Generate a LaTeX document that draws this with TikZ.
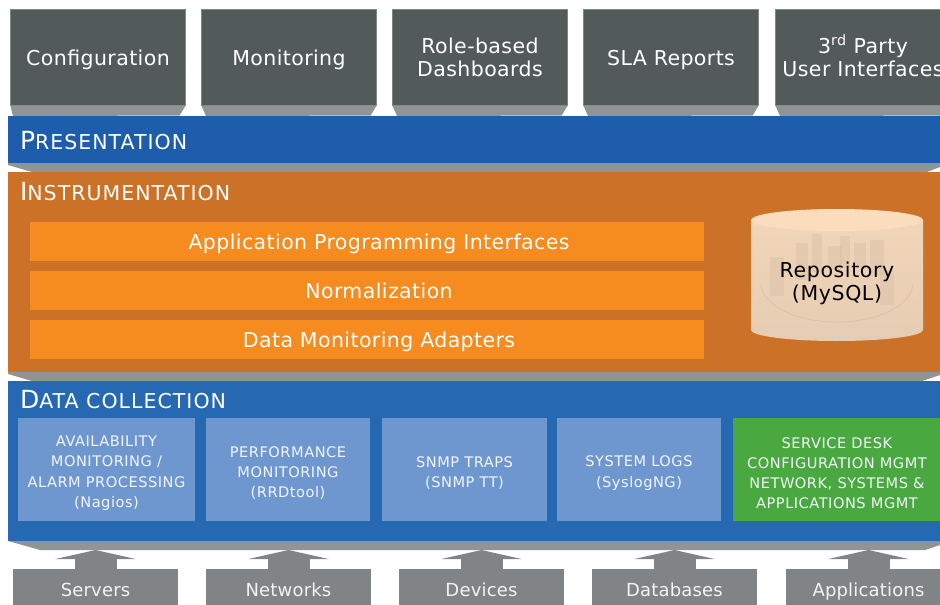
\documentclass[tikz,border=0pt]{standalone}
\usepackage{fontspec}
\setmainfont{DejaVu Sans}
\usetikzlibrary{positioning,arrows.meta}
\definecolor{slategrey}{HTML}{535A5A}
\definecolor{edgegrey}{HTML}{7F8786}
\definecolor{shadowgrey}{HTML}{909494}
\definecolor{sourcegrey}{HTML}{808486}
\definecolor{presentblue}{HTML}{1D5DAB}
\definecolor{collectblue}{HTML}{2768B3}
\definecolor{cellblue}{HTML}{6F97CF}
\definecolor{bandorange}{HTML}{CC7228}
\definecolor{barorange}{HTML}{F68B1F}
\definecolor{deskgreen}{HTML}{49A83F}
\definecolor{repohigh}{HTML}{F1D6B8}
\definecolor{repolow}{HTML}{E6CCB2}
\definecolor{repotop}{HTML}{FBDCBD}
\definecolor{repoghost}{HTML}{CDB8A2}
\newcommand{\headfont}[2]{{\fontsize{25}{25}\selectfont #1}{\fontsize{20.5}{25}\selectfont\addfontfeature{LetterSpace=5}#2}}
\newcommand{\barshift}[1]{\hspace*{24pt}#1}
\newcommand{\celltop}{\rule{0pt}{18pt}}

\begin{document}
\begin{tikzpicture}
  [
    x                  = 1pt,
    y                  = -1pt,
    every node/.style  = {inner sep=0pt, outer sep=0pt, align=center},
    topbox/.style      = {fill=slategrey, draw=edgegrey, line width=0.8pt, text=white,
                          minimum width=175.2pt, minimum height=96.2pt,
                          font=\fontsize{20.5}{23}\selectfont\addfontfeature{LetterSpace=2}},
    oneline/.style     = {text height=20pt, text depth=5pt},
    layerband/.style   = {minimum width=950pt, anchor=north west},
    headtext/.style    = {anchor=west, text=white},
    barbox/.style      = {fill=barorange, text=white, minimum width=674pt, minimum height=39pt,
                          text height=19pt, text depth=4pt,
                          font=\fontsize{20.5}{23}\selectfont\addfontfeature{LetterSpace=2}},
    cellbox/.style     = {fill=cellblue, text=white!90!cellblue, minimum height=103pt,
                          font=\fontsize{14.6}{20.2}\selectfont\addfontfeature{LetterSpace=3.5}},
    sourcebox/.style   = {fill=sourcegrey, text=white!90!sourcegrey, minimum width=165pt,
                          minimum height=42pt, text height=17pt, text depth=4pt,
                          font=\fontsize{18}{22}\selectfont\addfontfeature{LetterSpace=1}},
    shadowfill/.style  = {fill=shadowgrey},
    ghostfill/.style   = {fill=repoghost, opacity=0.3},
    feedarrow/.style   = {draw=sourcegrey, line width=42pt,
                          -{Triangle[width=80pt, length=9pt]}}
  ]
  \clip (0,0) rectangle (940,605);

  \node[topbox, oneline] (config) at (98,57.5) {Configuration};
  \node[topbox, oneline, right=15.8pt of config] (monitoring) {Monitoring};
  \node[topbox, right=15.8pt of monitoring] (dashboards) {Role-based\\Dashboards};
  \node[topbox, oneline, right=15.8pt of dashboards] (sla) {SLA Reports};
  \node[topbox, right=16.8pt of sla] (thirdparty) {3\smash{\textsuperscript{rd}} Party\\User Interfaces};

  \fill[shadowfill] (config.south west) -- (config.south east) -- ++(-6,10) -- (13,116) -- cycle;
  \fill[shadowfill] (monitoring.south west) -- (monitoring.south east) -- ++(-6,10) -- (206,116) -- cycle;
  \fill[shadowfill] (dashboards.south west) -- (dashboards.south east) -- ++(-6,10) -- (397,116) -- cycle;
  \fill[shadowfill] (sla.south west) -- (sla.south east) -- ++(-6,10) -- (588,116) -- cycle;
  \fill[shadowfill] (thirdparty.south west) -- (thirdparty.south east) -- ++(-6,10) -- (780,116) -- cycle;

  \node[layerband, fill=presentblue, minimum height=47pt] (presentation) at (8,116) {};
  \node[layerband, fill=bandorange, minimum height=200pt] (instrumentation) at (8,172) {};
  \node[layerband, fill=collectblue, minimum height=160pt] (collection) at (8,381) {};

  \fill[shadowfill] (8,163) -- (940,163) -- (940,167) -- (927,172) -- (32,172) -- (8,165) -- cycle;
  \fill[shadowfill] (8,372) -- (940,372) -- (940,375) -- (922,381) -- (32,381) -- (8,374) -- cycle;
  \fill[shadowfill] (8,541) -- (940,541) -- (940,545) -- (925,550) -- (40,550) -- (8,541) -- cycle;

  \node[headtext] (presenthead) at (20,141) {\headfont{P}{RESENTATION}};
  \node[headtext] (instrumenthead) at (20,192) {\headfont{I}{NSTRUMENTATION}};
  \node[headtext] (collecthead) at (20,400) {\headfont{D}{ATA COLLECTION}};

  \node[barbox] (api) at (367,241.5) {\barshift{Application Programming Interfaces}};
  \node[barbox, below=10pt of api] (normalization) {\barshift{Normalization}};
  \node[barbox, below=10pt of normalization] (adapters) {\barshift{Data Monitoring Adapters}};

  \shade[top color=repohigh, bottom color=repolow] (751,220) -- (751,330)
    arc[start angle=180, end angle=0, x radius=86, y radius=11] -- (923,220) -- cycle;
  \fill[repotop] (837,220) ellipse[x radius=86, y radius=11];
  \fill[ghostfill] (770,257) rectangle (784,296);
  \fill[ghostfill] (796,243) rectangle (808,280);
  \fill[ghostfill] (812,234) rectangle (822,272);
  \fill[ghostfill] (828,246) rectangle (842,270);
  \fill[ghostfill] (840,236) rectangle (850,268);
  \fill[ghostfill] (854,243) rectangle (866,268);
  \fill[ghostfill] (870,240) rectangle (884,275);
  \fill[ghostfill] (880,270) rectangle (894,305);
  \draw[repoghost, line width=0.8pt, opacity=0.5] (761,283) arc[start angle=180, end angle=0, x radius=76, y radius=39];
  \node[font=\fontsize{20.5}{23}\selectfont\addfontfeature{LetterSpace=3}, text=black] (repotext) at (837,283.5) {Repository\\(MySQL)};

  \node[cellbox, minimum width=177pt] (availability) at (106.5,469.5) {\celltop AVAILABILITY\\MONITORING /\\ALARM PROCESSING\\(Nagios)};
  \node[cellbox, minimum width=164pt, right=11pt of availability] (performance) {\celltop PERFORMANCE\\MONITORING\\(RRDtool)};
  \node[cellbox, minimum width=165pt, right=12pt of performance] (snmp) {\celltop SNMP TRAPS\\(SNMP TT)};
  \node[cellbox, minimum width=164pt, right=10pt of snmp] (syslog) {\celltop SYSTEM LOGS\\(SyslogNG)};
  \node[cellbox, minimum width=208pt, right=12pt of syslog, fill=deskgreen] (servicedesk) {\celltop SERVICE DESK\\CONFIGURATION MGMT\\NETWORK, SYSTEMS \&\\APPLICATIONS MGMT};

  \node[sourcebox] (servers) at (95.5,590) {Servers};
  \node[sourcebox, right=28pt of servers] (networks) {Networks};
  \node[sourcebox, right=28pt of networks] (devices) {Devices};
  \node[sourcebox, right=28pt of devices] (databases) {Databases};
  \node[sourcebox, right=29pt of databases] (applications) {Applications};

  \coordinate (intake) at (0,550);
  \draw[feedarrow] (servers.north) -- (servers.north |- intake);
  \draw[feedarrow] (networks.north) -- (networks.north |- intake);
  \draw[feedarrow] (devices.north) -- (devices.north |- intake);
  \draw[feedarrow] (databases.north) -- (databases.north |- intake);
  \draw[feedarrow] (applications.north) -- (applications.north |- intake);
\end{tikzpicture}
\end{document}
